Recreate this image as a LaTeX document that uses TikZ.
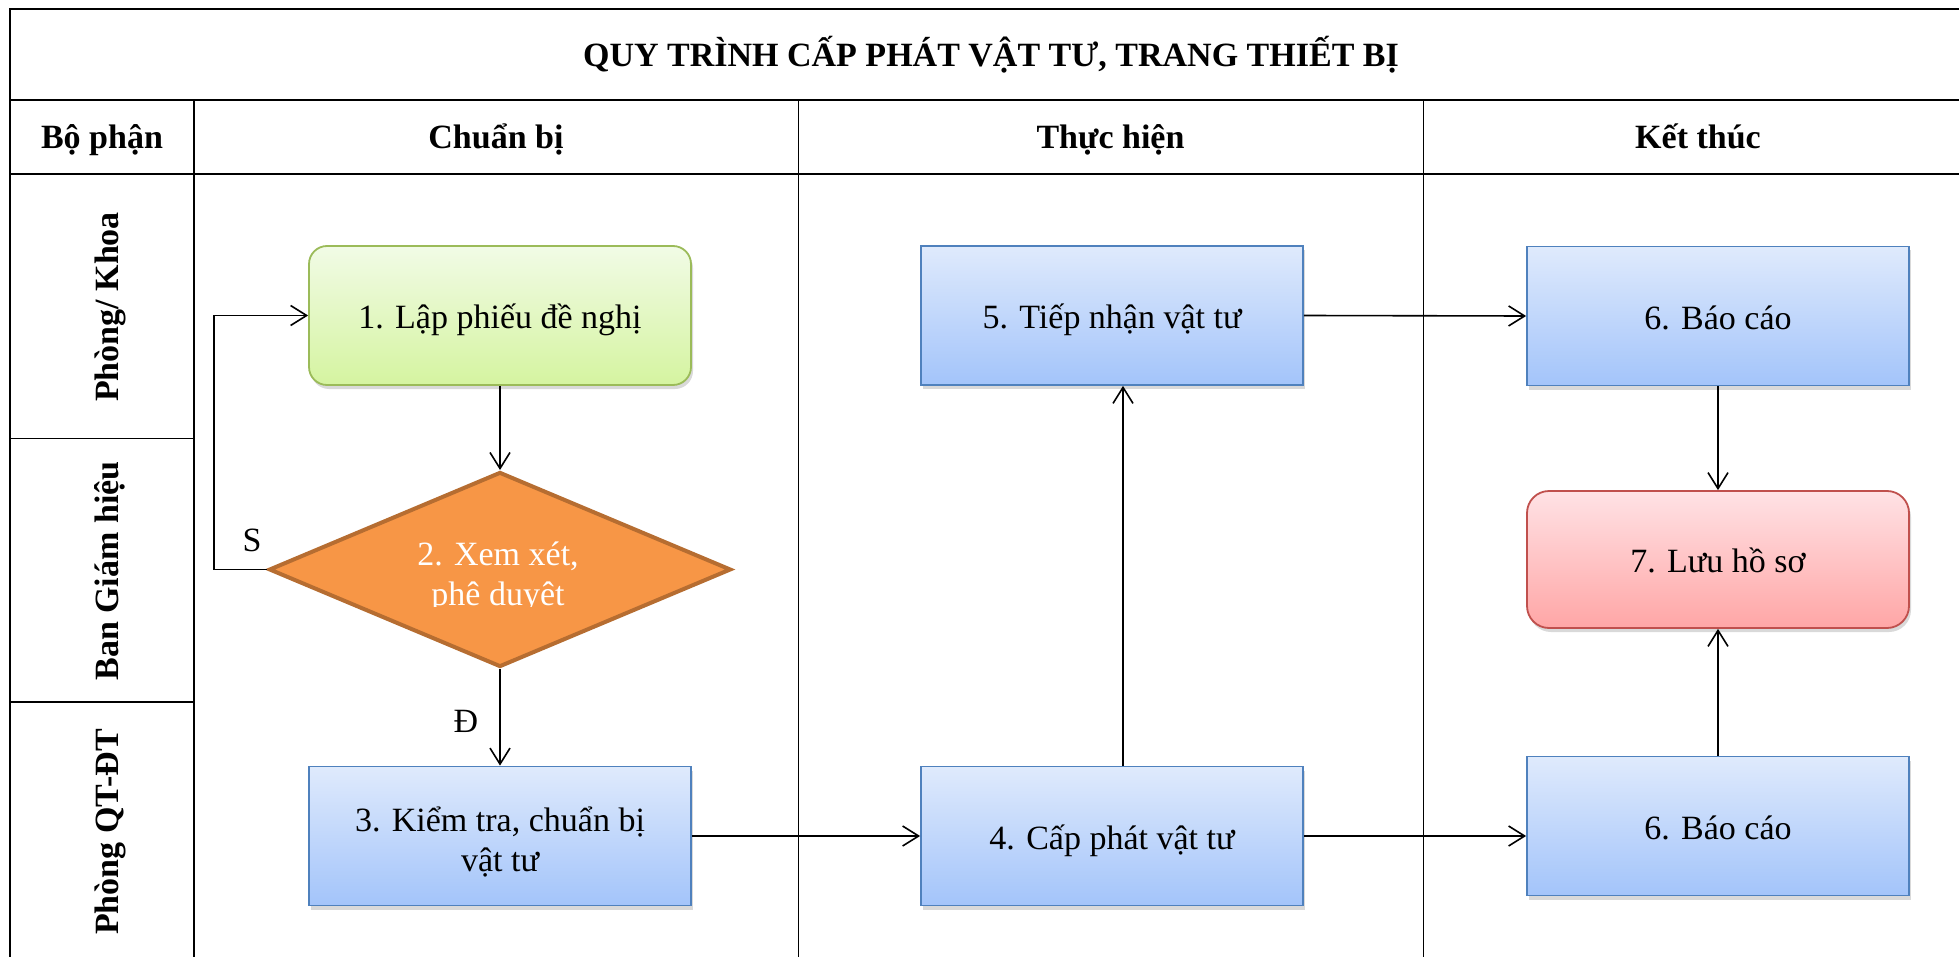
\documentclass[tikz,border=0pt]{standalone}
\usepackage{fontspec}
\setmainfont{Liberation Serif}
\usetikzlibrary{arrows.meta,shapes.geometric,shadows}

\definecolor{grnTop}{RGB}{241,251,230}
\definecolor{grnBot}{RGB}{213,244,160}
\definecolor{grnLine}{RGB}{155,187,89}
\definecolor{bluTop}{RGB}{223,234,252}
\definecolor{bluBot}{RGB}{163,196,250}
\definecolor{bluLine}{RGB}{79,129,189}
\definecolor{redTop}{RGB}{255,226,229}
\definecolor{redBot}{RGB}{255,166,166}
\definecolor{redLine}{RGB}{192,80,77}
\definecolor{orgFill}{RGB}{247,150,70}
\definecolor{orgLine}{RGB}{182,109,49}

\begin{document}
\begin{tikzpicture}[x=0.5pt,y=-0.5pt,
  txt/.style={font=\fontsize{17}{20}\selectfont, align=center},
  hdr/.style={font=\fontsize{17}{20}\selectfont\bfseries, text height=12pt, text depth=0pt},
  boxbase/.style={txt, minimum width=191pt, minimum height=69.5pt, inner sep=0pt,
    text height=13pt, text depth=0pt,
    line width=0.9pt, drop shadow={shadow xshift=1pt, shadow yshift=-2pt, opacity=0.3}},
  twolines/.style={text height=35.5pt, text depth=0pt},
  bluebox/.style={boxbase, draw=bluLine, top color=bluTop, bottom color=bluBot},
  greenbox/.style={boxbase, draw=grnLine, top color=grnTop, bottom color=grnBot, rounded corners=9pt},
  redbox/.style={boxbase, draw=redLine, top color=redTop, bottom color=redBot, rounded corners=11pt, minimum height=68.5pt},
  decision/.style={diamond, aspect=2.37, minimum width=231pt, minimum height=97.5pt, inner sep=0pt,
    draw=orgLine, fill=orgFill, line width=2pt},
  conn/.style={-{Straight Barb[length=8pt,width=10pt]}, line width=0.8pt},
  lbl/.style={font=\fontsize{17}{20}\selectfont}
]
\useasboundingbox (0,0) rectangle (1959,957);
\clip (0,0) rectangle (1959,957);

% table
\draw[line width=1.25pt] (10,980) -- (10,9) -- (1973,9) -- (1973,980);
\draw[line width=1.1pt] (10,100) -- (1973,100);
\draw[line width=1.1pt] (10,174) -- (1973,174);
\draw[line width=1pt] (194,100) -- (194,980);
\draw[line width=0.5pt] (798,100) -- (798,980);
\draw[line width=0.5pt] (1423,100) -- (1423,980);
\draw[line width=0.75pt] (10,438.5) -- (194,438.5);
\draw[line width=0.75pt] (10,702) -- (194,702);

\node[hdr] (title) at (991,54.5) {QUY TRÌNH CẤP PHÁT VẬT TƯ, TRANG THIẾT BỊ};
\node[hdr] (h0) at (102,137) {Bộ phận};
\node[hdr] (h1) at (496,137) {Chuẩn bị};
\node[hdr] (h2) at (1110.5,137) {Thực hiện};
\node[hdr] (h3) at (1698,137) {Kết thúc};

\node[hdr, rotate=90] (l1) at (106,307) {Phòng/ Khoa};
\node[hdr, rotate=90] (l2) at (106,571) {Ban Giám hiệu};
\node[hdr, rotate=90] (l3) at (106,832) {Phòng QT-ĐT};

% nodes
\node[greenbox] (b1) at (500,315.5) {1. Lập phiếu đề nghị};
\node[decision] (d2) at (500,569.5) {};
\begin{scope}
  \clip (269,472) rectangle (731,606.5);
  \node[txt, text=white, anchor=base] (d2t) at (498,605) {2. Xem xét,\\phê duyệt};
\end{scope}
\node[bluebox, twolines] (b3) at (500,836) {3. Kiểm tra, chuẩn bị\\vật tư};
\node[bluebox] (b4) at (1112,836) {4. Cấp phát vật tư};
\node[bluebox] (b5) at (1112,315.5) {5. Tiếp nhận vật tư};
\node[bluebox] (b6) at (1718,316) {6. Báo cáo};
\node[redbox] (b7) at (1718,559.5) {7. Lưu hồ sơ};
\node[bluebox] (b6b) at (1718,826) {6. Báo cáo};

% connectors
\coordinate (lp) at (214,569.5);
\draw[conn] (b1.south) -- (d2.north);
\draw[conn] (d2.west) -- (lp) |- (b1.west);
\node[lbl] (sl) at (252,540) {S};
\draw[conn] (d2.south) -- (b3.north);
\node[lbl] (dl) at (466,721) {Đ};
\draw[conn] (b3.east) -- (b4.west);
\draw[conn] ([xshift=5.5pt]b4.north) -- ([xshift=5.5pt]b5.south);
\draw[conn] (b5.east) -- (b6.west);
\draw[conn] (b4.east) -- (b4.east -| b6b.west);
\draw[conn] (b6.south) -- (b7.north);
\draw[conn] (b6b.north) -- (b7.south);
\end{tikzpicture}
\end{document}
